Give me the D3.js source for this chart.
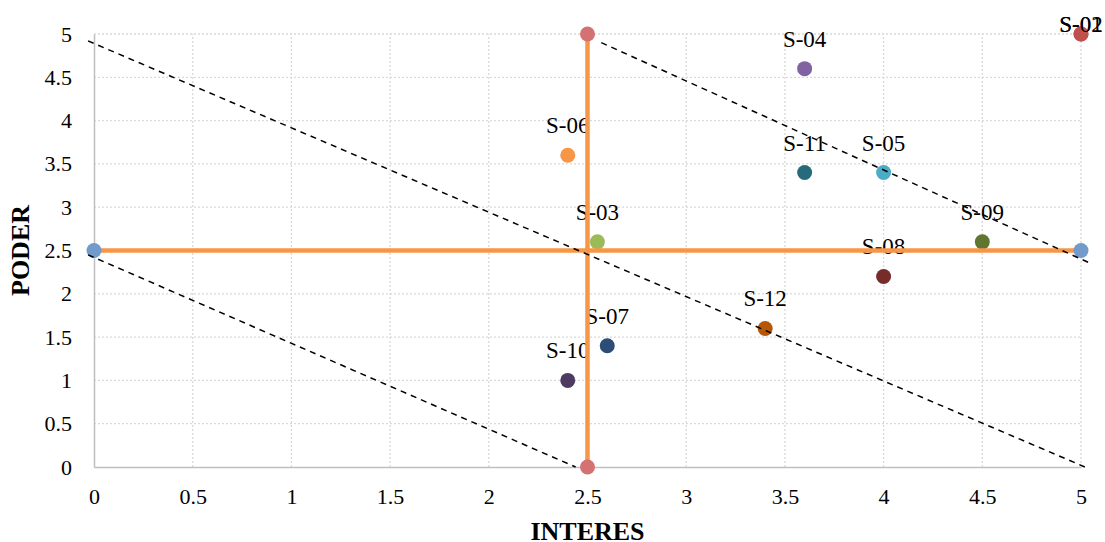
<!DOCTYPE html>
<html>
<head>
<meta charset="utf-8">
<script src="https://cdn.jsdelivr.net/npm/d3@7"></script>
<style>
  body { margin: 0; background: #fff; }
  svg { font-family: "Liberation Serif", "Times New Roman", serif; }
</style>
</head>
<body>
<svg id="chart" width="1105" height="542"></svg>
<script>
// stakeholder data
var names   = ['S-01', 'S-02', 'S-03', 'S-04', 'S-05', 'S-06', 'S-07', 'S-08', 'S-09', 'S-10', 'S-11', 'S-12'];
var interes = [5, 5, 2.55, 3.6, 4, 2.4, 2.6, 4, 4.5, 2.4, 3.6, 3.4];
var poder   = [5, 5, 2.6, 4.6, 3.4, 3.6, 1.4, 2.2, 2.6, 1.0, 3.4, 1.6];
var colors  = ['#C0504D', '#C0504D', '#9BBB59', '#8064A2', '#4BACC6', '#F79646',
               '#2C4D75', '#772C2A', '#5F7530', '#4D3B62', '#276A7C', '#B65708'];

var ticks = [0, 0.5, 1, 1.5, 2, 2.5, 3, 3.5, 4, 4.5, 5];

// quadrant dividers
var hLine = [[0, 2.5], [5, 2.5]];
var vLine = [[2.5, 0], [2.5, 5]];

// dashed guide lines
var guides = [
  [[-0.03, 4.92], [5.02, 0]],
  [[-0.03, 2.45], [2.44, 0]],
  [[2.57, 4.9], [5.05, 2.35]]
];

var svg = d3.select('#chart'),
    margin = {left: 94, right: 24, top: 34, bottom: 75},
    W = 1105, H = 542;

var x = d3.scaleLinear().domain([0, 5]).range([margin.left, W - margin.right]);
var y = d3.scaleLinear().domain([0, 5]).range([H - margin.bottom, margin.top]);

// grid
svg.append('g').selectAll('line.hg').data(ticks.slice(1)).enter().append('line')
  .attr('x1', x(0)).attr('x2', x(5))
  .attr('y1', function(d) { return y(d); }).attr('y2', function(d) { return y(d); })
  .attr('stroke', '#D9D9D9').attr('stroke-width', 1.3).attr('stroke-dasharray', '2,2');
svg.append('g').selectAll('line.vg').data(ticks.slice(1)).enter().append('line')
  .attr('y1', y(0)).attr('y2', y(5))
  .attr('x1', function(d) { return x(d); }).attr('x2', function(d) { return x(d); })
  .attr('stroke', '#D9D9D9').attr('stroke-width', 1.3).attr('stroke-dasharray', '2,2');

// axes
var xAxis = svg.append('g').attr('transform', 'translate(0,' + y(0) + ')')
  .call(d3.axisBottom(x).tickValues(ticks).tickSize(0).tickPadding(21).tickFormat(d3.format('')));
var yAxis = svg.append('g').attr('transform', 'translate(' + x(0) + ',0)')
  .call(d3.axisLeft(y).tickValues(ticks).tickSize(0).tickPadding(22).tickFormat(d3.format('')));
[xAxis, yAxis].forEach(function(a) {
  a.select('.domain').attr('stroke', '#BFBFBF').attr('stroke-width', 1.5);
  a.selectAll('text').attr('font-family', '"Liberation Serif", serif')
    .attr('font-size', 22).attr('fill', '#000');
});

svg.append('text').attr('x', x(2.5)).attr('y', 540)
  .attr('text-anchor', 'middle').attr('font-weight', 'bold').attr('font-size', 26)
  .text('INTERES');
svg.append('text').attr('transform', 'translate(29,' + y(2.5) + ') rotate(-90)')
  .attr('text-anchor', 'middle').attr('font-weight', 'bold').attr('font-size', 26)
  .text('PODER');

// points and labels
var pts = svg.append('g');
names.forEach(function(n, i) {
  pts.append('circle').attr('cx', x(interes[i])).attr('cy', y(poder[i]))
    .attr('r', 7.5).attr('fill', colors[i]);
  pts.append('text').attr('x', x(interes[i]))
    .attr('y', Math.max(y(poder[i]) - 22, 32))
    .attr('text-anchor', 'middle').attr('font-size', 23).attr('fill', '#000')
    .text(n);
});

// quadrant lines
function drawDivider(pts2, markerColor) {
  svg.append('line')
    .attr('x1', x(pts2[0][0])).attr('y1', y(pts2[0][1]))
    .attr('x2', x(pts2[1][0])).attr('y2', y(pts2[1][1]))
    .attr('stroke', '#F79646').attr('stroke-width', 4.5);
  pts2.forEach(function(p) {
    svg.append('circle').attr('cx', x(p[0])).attr('cy', y(p[1]))
      .attr('r', 7.5).attr('fill', markerColor);
  });
}
drawDivider(hLine, '#729ACA');
drawDivider(vLine, '#D47273');

// dashed guides
var line = d3.line().x(function(d) { return x(d[0]); }).y(function(d) { return y(d[1]); });
svg.append('g').selectAll('path').data(guides).enter().append('path')
  .attr('d', line).attr('fill', 'none')
  .attr('stroke', '#000').attr('stroke-width', 1.5).attr('stroke-dasharray', '6,5');
</script>
</body>
</html>
